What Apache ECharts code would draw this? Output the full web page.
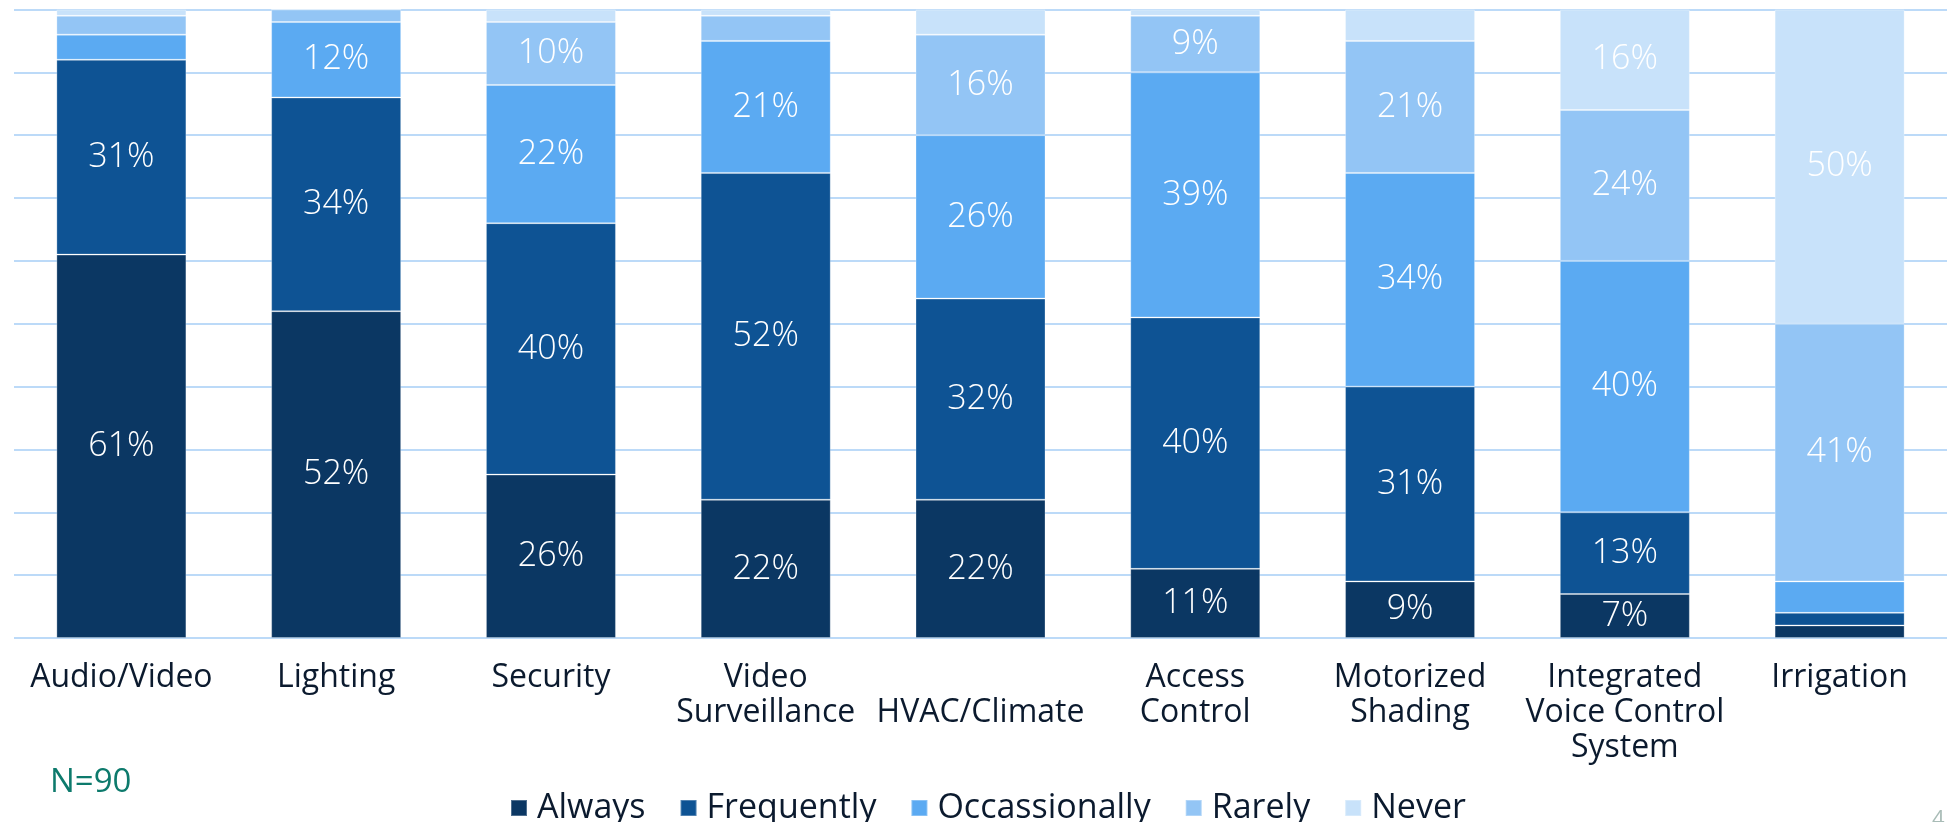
<!DOCTYPE html>
<html>
<head>
<meta charset="utf-8">
<style>
  html, body { margin: 0; padding: 0; background: #ffffff; }
  #chart { width: 1947px; height: 822px; }
</style>
<script src="https://cdn.jsdelivr.net/npm/echarts@6/dist/echarts.min.js"></script>
</head>
<body>
<div id="chart"></div>
<script>
// How often each system type is involved in projects (share of respondents, %)
const categories = [
  'Audio/Video', 'Lighting', 'Security', 'Video\nSurveillance', '\nHVAC/Climate',
  'Access\nControl', 'Motorized\nShading', 'Integrated\nVoice Control\nSystem', 'Irrigation'
];
const seriesNames = ['Always', 'Frequently', 'Occassionally', 'Rarely', 'Never'];
const always       = [61, 52, 26, 22, 22, 11,  9,  7,  2];
const frequently   = [31, 34, 40, 52, 32, 40, 31, 13,  2];
const occasionally = [ 4, 12, 22, 21, 26, 39, 34, 40,  5];
const rarely       = [ 3,  2, 10,  4, 16,  9, 21, 24, 41];
const never        = [ 1,  0,  2,  1,  4,  1,  5, 16, 50];
const sampleNote = 'N=90';

const colors = ['#0b3763', '#0e5394', '#5baaf2', '#93c5f5', '#c8e2fa'];
const values = [always, frequently, occasionally, rarely, never];
const FONT = '"Open Sans", "Noto Sans", sans-serif';

const chart = echarts.init(document.getElementById('chart'));

const series = seriesNames.map((name, i) => ({
  name: name,
  type: 'bar',
  stack: 'total',
  barWidth: 130,
  data: values[i],
  itemStyle: { color: colors[i], borderColor: 'rgba(255,255,255,0.28)', borderWidth: 1 },
  label: {
    show: true,
    position: 'inside',
    color: '#ffffff',
    fontFamily: FONT,
    fontWeight: 300,
    fontSize: 34,
    formatter: p => (p.value >= 7 ? p.value + '%' : '')
  },
  emphasis: { disabled: true }
}));

chart.setOption({
  animation: false,
  color: colors,
  grid: { left: 14, right: -16, top: 9.5, bottom: 184, containLabel: false },
  xAxis: {
    type: 'category',
    data: categories,
    axisLine: { show: false },
    axisTick: { show: false },
    axisLabel: {
      interval: 0,
      margin: 22,
      color: '#0b1a2e',
      fontFamily: FONT,
      fontSize: 32,
      lineHeight: 35,
      verticalAlign: 'top'
    }
  },
  yAxis: {
    type: 'value',
    min: 0,
    max: 100,
    interval: 10,
    axisLabel: { show: false },
    axisLine: { show: false },
    axisTick: { show: false },
    splitLine: { lineStyle: { color: '#bcdaf8', width: 2 } }
  },
  legend: {
    data: seriesNames,
    left: 505,
    top: 786,
    icon: 'rect',
    itemWidth: 16,
    itemHeight: 16,
    itemGap: 34,
    textStyle: { color: '#0b1a2e', fontFamily: FONT, fontSize: 34, padding: [0, 0, 0, 5] }
  },
  graphic: [
    {
      type: 'text',
      left: 50,
      top: 766,
      style: { text: sampleNote, fill: '#0d7a6c', font: '33px ' + FONT }
    },
    {
      type: 'text',
      left: 1932,
      top: 809,
      style: { text: '4', fill: '#a9bcb7', font: '22px ' + FONT }
    }
  ],
  series: series
});
</script>
</body>
</html>
